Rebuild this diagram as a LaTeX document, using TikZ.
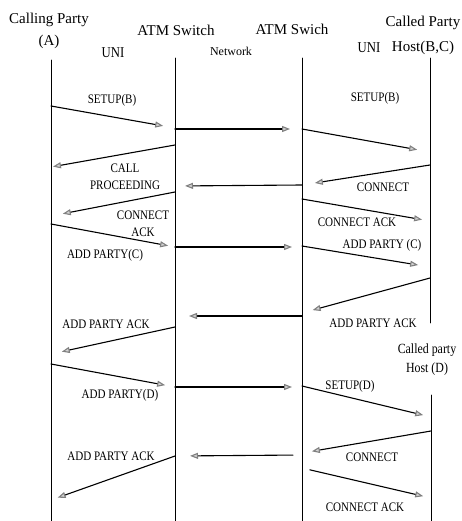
\documentclass[tikz,border=0pt]{standalone}
\usepackage{fontspec}
\setmainfont{Liberation Serif}
\newfontfamily\narrowfont[FakeStretch=0.85]{Liberation Serif}
\usetikzlibrary{arrows.meta}

\begin{document}
\begin{tikzpicture}
    [x=1pt,y=-1pt,line cap=round,line join=round,
     life/.style={line width=0.9pt},
     msg/.style={line width=1.1pt,-{Triangle[length=8pt,width=6pt,color=gray,fill=gray!35]}},
     party/.style={font=\fontsize{15}{22}\selectfont,align=center,inner sep=0pt},
     iface/.style={font=\narrowfont\fontsize{15}{17}\selectfont,inner sep=0pt},
     lbl/.style={font=\narrowfont\fontsize{13}{17}\selectfont,align=center,inner sep=0pt}]
\useasboundingbox (0,0) rectangle (461,521);
%lifelines
\coordinate (A) at (51,0);
\coordinate (S1) at (175,0);
\coordinate (S2) at (302,0);
\coordinate (BC) at (430,0);
\coordinate (D) at (431,0);
\draw[life] (A |- 0,60) -- (A |- 0,521);
\draw[life] (S1 |- 0,58) -- (S1 |- 0,521);
\draw[life] (S2 |- 0,58) -- (S2 |- 0,521);
\draw[life] (BC |- 0,58) -- (BC |- 0,323);
\draw[life] (D |- 0,395) -- (D |- 0,521);
%headings
\node[party] (callA) at (49,31) {Calling Party\\(A)};
\node[party] (sw1) at (176,30) {ATM Switch};
\node[party] (sw2) at (292,29) {ATM Swich};
\node[party,font=\fontsize{15}{25}\selectfont] (callBC) at (423,35) {Called Party\\Host(B,C)};
\node[party,font=\narrowfont\fontsize{14}{19}\selectfont] (callD) at (427,360) {Called party\\Host (D)};
\node[iface] (uni1) at (113,53) {UNI};
\node[iface,font=\fontsize{12}{14}\selectfont] (net) at (231,51) {Network};
\node[iface] (uni2) at (369,48) {UNI};
%messages: from/y/to/y/start gap/end gap
\foreach \src/\ya/\dst/\yb/\pre/\gap in {
  A/106/S1/128/0/12, S1/129/S2/129/0/12, S2/129/BC/152/0/13,
  S1/145/A/167/0/2, BC/165/S2/185/0/13, S2/185/S1/186/0/10,
  S1/192/A/216/0/12, S2/199/BC/221/0/8, A/224/S1/247/0/7,
  S1/247/S2/247/0/10, S2/246/BC/267/0/12, BC/278/S2/313/0/11,
  S2/316/S1/316/0/14, S1/327/A/354/0/11, A/364/S1/387/0/10,
  S1/387/S2/387/0/10, S2/386/D/417/0/8, D/431/S2/453/0/10,
  S2/455/S1/456/9/15, S1/456/A/500/0/7, S2/468/D/498/8/8}
  \draw[msg,shorten <=\pre pt,shorten >=\gap pt] (\src |- 0,\ya) -- (\dst |- 0,\yb);
%message labels
\node[lbl] (setupB1) at (112,100) {SETUP(B)};
\node[lbl] (setupB2) at (375,98) {SETUP(B)};
\node[lbl] (callproc) at (125,177) {CALL\\PROCEEDING};
\node[lbl] (conn1) at (383,187) {CONNECT};
\node[lbl] (connack1) at (143,224) {CONNECT\\ACK};
\node[lbl] (connack2) at (357,222) {CONNECT ACK};
\node[lbl] (addC1) at (105,255) {ADD PARTY(C)};
\node[lbl] (addC2) at (382,245) {ADD PARTY (C)};
\node[lbl] (addack1) at (373,323) {ADD PARTY ACK};
\node[lbl] (addack2) at (106,324) {ADD PARTY ACK};
\node[lbl] (addD) at (120,395) {ADD PARTY(D)};
\node[lbl] (setupD) at (350,386) {SETUP(D)};
\node[lbl] (conn2) at (372,457) {CONNECT};
\node[lbl] (addack3) at (111,456) {ADD PARTY ACK};
\node[lbl] (connack3) at (365,507) {CONNECT ACK};
\end{tikzpicture}
\end{document}
